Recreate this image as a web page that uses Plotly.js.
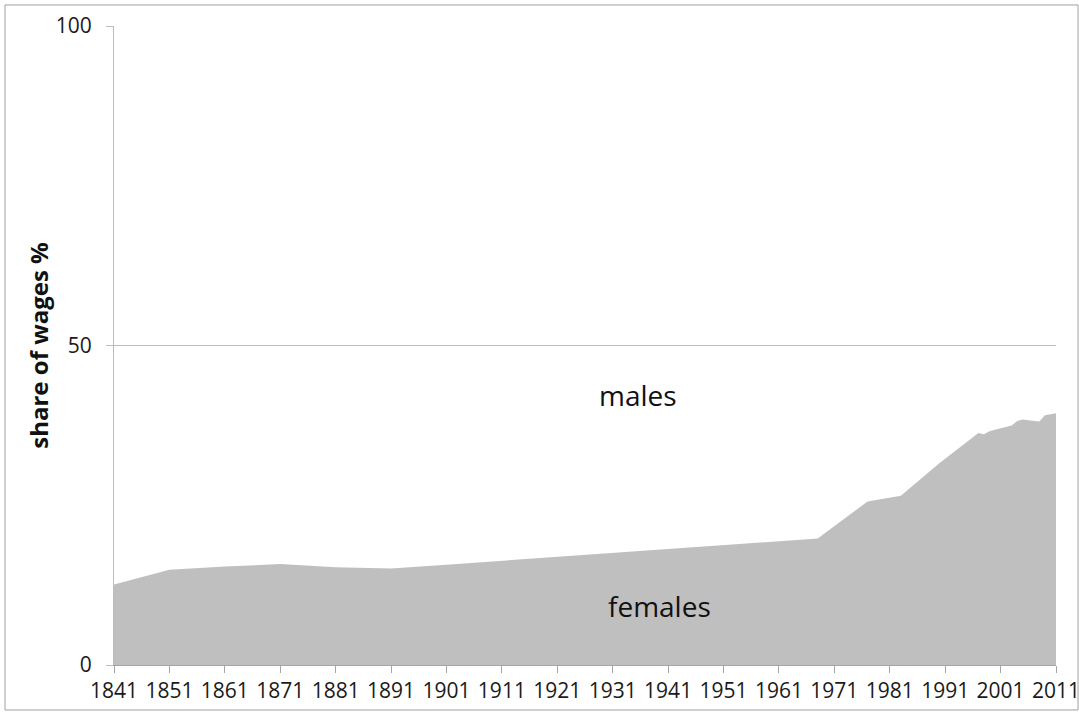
<!DOCTYPE html>
<html>
<head>
<meta charset="utf-8">
<script src="https://cdn.plot.ly/plotly-3.0.1.min.js"></script>
<style>html,body{margin:0;padding:0;background:#fff;}#chart{width:1079px;height:713px;}</style>
</head>
<body>
<div id="chart"></div>
<script>
var years = [1841,1851,1861,1871,1881,1891,1901,1911,1921,1931,1941,1951,1961,1968,1977,1983,1990,1997,1998,1999,2000,2001,2002,2003,2004,2005,2006,2007,2008,2009,2010,2011];
var femaleShare = [12.6,14.9,15.4,15.8,15.3,15.1,15.7,16.3,16.9,17.5,18.1,18.7,19.3,19.8,25.6,26.5,31.6,36.3,36.1,36.6,36.8,37.0,37.3,37.5,38.2,38.4,38.3,38.2,38.1,39.1,39.3,39.4];
var xTickVals = [1841,1851,1861,1871,1881,1891,1901,1911,1921,1931,1941,1951,1961,1971,1981,1991,2001,2011];
var yTickVals = [0,50,100];
var labelMales = "males";
var labelFemales = "females";

var trace = {
  x: years, y: femaleShare, type: 'scatter', mode: 'lines',
  fill: 'tozeroy', fillcolor: '#bfbfbf', line: {width: 0, color: '#bfbfbf'},
  hoverinfo: 'x+y'
};

var layout = {
  width: 1079, height: 713,
  margin: {l: 114, r: 23, t: 26, b: 48},
  paper_bgcolor: '#fff', plot_bgcolor: '#fff',
  font: {family: 'Open Sans, sans-serif', size: 21, color: '#1a1a1a'},
  showlegend: false,
  xaxis: {
    range: [1841, 2011], tickmode: 'array', tickvals: xTickVals, ticktext: xTickVals.map(String),
    showgrid: false, zeroline: false, showline: true, linecolor: '#a6a6a6', linewidth: 1,
    ticks: 'outside', ticklen: 7, tickcolor: '#a6a6a6',
    tickfont: {family: 'Open Sans, sans-serif', size: 21, color: '#1a1a1a'},
    tickangle: 0, ticklabeloverflow: 'allow', fixedrange: true
  },
  yaxis: {
    range: [0, 100], tickmode: 'array', tickvals: yTickVals, showgrid: true, gridcolor: '#bdbdbd', gridwidth: 1,
    zeroline: false, showline: true, linecolor: '#bdbdbd', linewidth: 1,
    ticks: 'outside', ticklen: 7, tickcolor: '#bdbdbd',
    tickfont: {family: 'Open Sans, sans-serif', size: 21, color: '#1a1a1a'},
    ticklabelstandoff: 10, ticklabeloverflow: 'allow',
    title: {text: 'share of wages %', font: {family: 'Open Sans, sans-serif', size: 24, color: '#111', weight: 'bold'}, standoff: 0},
    fixedrange: true
  },
  annotations: [
    {x: 1935.6, y: 42.3, xref: 'x', yref: 'y', text: labelMales, showarrow: false,
     font: {family: 'Open Sans, sans-serif', size: 28, color: '#111'}},
    {x: 1939.4, y: 9.2, xref: 'x', yref: 'y', text: labelFemales, showarrow: false,
     font: {family: 'Open Sans, sans-serif', size: 28, color: '#111'}}
  ],
  shapes: [
    {type: 'rect', xref: 'paper', yref: 'paper', x0: -0.1157, x1: 1.0234, y0: -0.0704, y1: 1.0329,
     line: {color: '#a0a0a0', width: 1}, fillcolor: 'rgba(0,0,0,0)', layer: 'above'}
  ]
};

Plotly.newPlot('chart', [trace], layout, {displayModeBar: false, staticPlot: true});
</script>
</body>
</html>
